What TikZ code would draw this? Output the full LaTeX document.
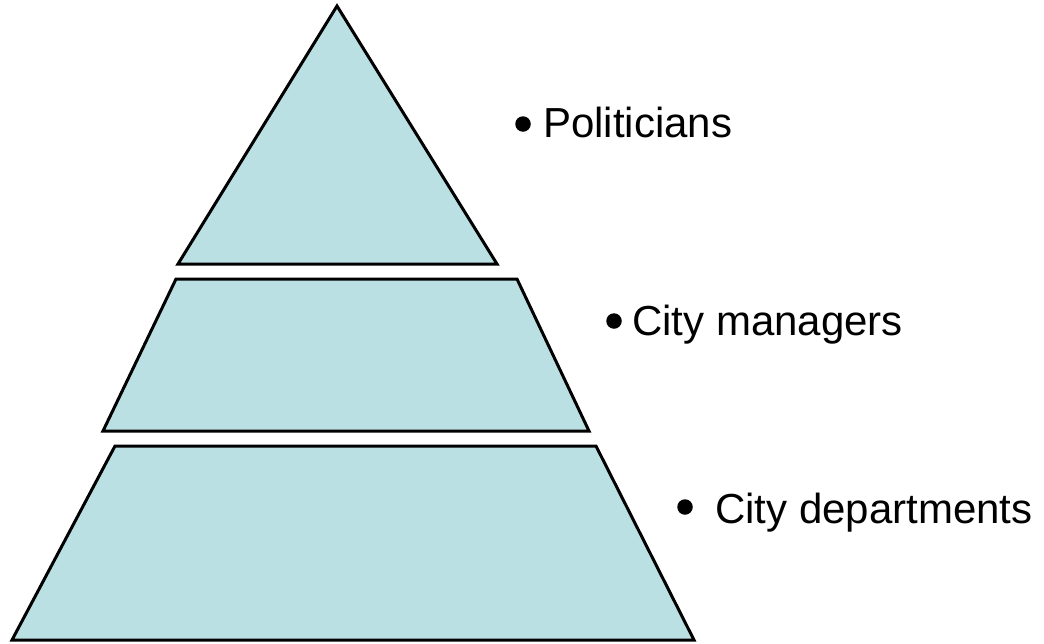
\documentclass[tikz,border=0pt]{standalone}
\usepackage{fontspec}
\setmainfont{Liberation Sans}
\definecolor{tierfill}{RGB}{186,224,227}
\begin{document}
\begin{tikzpicture}[x=1pt,y=-1pt,
  tier/.style={fill=tierfill, draw=black, line width=3pt, line join=miter},
  lbl/.style={anchor=base west, inner sep=0pt, font=\fontsize{42}{50}\selectfont},
  dot/.style={circle, fill=black, inner sep=0pt, minimum size=15.5pt}]
\useasboundingbox (0,0) rectangle (1044,643);
\draw[tier] (337,6) -- (497,264) -- (178,264) -- cycle;
\draw[tier] (176,279) -- (517,279) -- (589,431) -- (103,431) -- cycle;
\draw[tier] (115,446) -- (596,446) -- (694,640) -- (12,640) -- cycle;
\node[dot] (b1) at (523,124) {};
\node[lbl] (t1) at (543,137) {Politicians};
\node[dot] (b2) at (614,321) {};
\node[lbl] (t2) at (632,335) {City managers};
\node[dot] (b3) at (685,507) {};
\node[lbl] (t3) at (715,523) {City departments};
\end{tikzpicture}
\end{document}
